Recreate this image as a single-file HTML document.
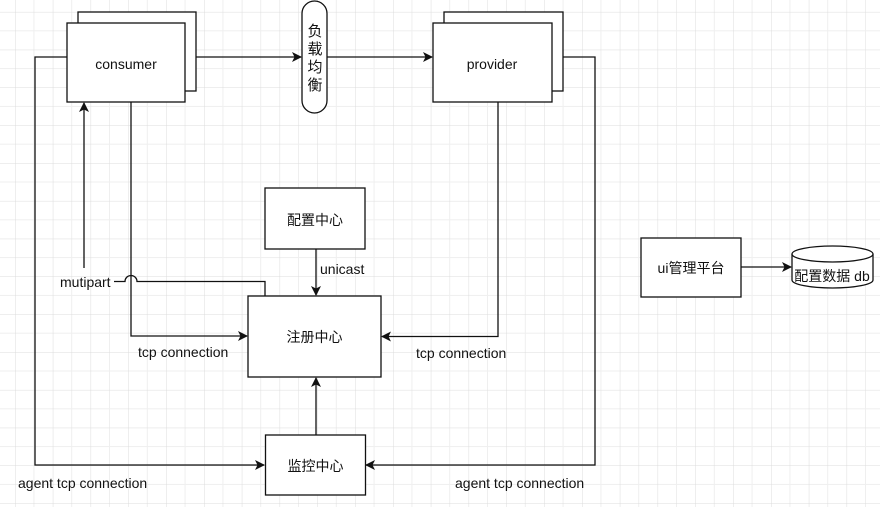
<!DOCTYPE html>
<html><head><meta charset="utf-8"><style>
html,body{margin:0;padding:0;background:#fff;}
svg{display:block;}
text{font-family:"Liberation Sans","Noto Sans CJK SC",sans-serif;font-size:14px;fill:#111;}
</style></head><body>
<svg width="880" height="507" viewBox="0 0 880 507" xmlns="http://www.w3.org/2000/svg">
<defs>
<pattern id="g" x="15" y="11.9" width="37.8" height="37.8" patternUnits="userSpaceOnUse">
<path d="M18.9 0V37.8M0 18.9H37.8" stroke="#efefef" stroke-width="1" fill="none"/>
<path d="M0 0V37.8M0 0H37.8" stroke="#dcdcdc" stroke-width="1" fill="none"/>
</pattern>
<marker id="a" markerWidth="12" markerHeight="12" refX="9" refY="5" orient="auto" markerUnits="userSpaceOnUse"><path d="M0 0L10 5L0 10L2.5 5Z" fill="#111"/></marker>
</defs>
<rect width="880" height="507" fill="url(#g)"/>
<g stroke="#111" stroke-width="1.3" fill="none">
<rect x="78" y="12" width="118" height="79" fill="#fff"/>
<rect x="67" y="23" width="118" height="79" fill="#fff"/>
<rect x="444" y="12" width="119" height="79" fill="#fff"/>
<rect x="433" y="23" width="119" height="79" fill="#fff"/>
<rect x="302" y="1" width="25" height="112" rx="12.5" fill="#fff"/>
<rect x="265" y="188" width="100" height="61" fill="#fff"/>
<rect x="248" y="296" width="133" height="81" fill="#fff"/>
<rect x="265.5" y="435" width="100" height="60" fill="#fff"/>
<rect x="641" y="238" width="100" height="59" fill="#fff"/>
<path d="M792 254V280A40.5 8 0 0 0 873 280V254" fill="#fff"/>
<ellipse cx="832.5" cy="254" rx="40.5" ry="8" fill="#fff"/>
<path d="M196 57H301" marker-end="url(#a)"/>
<path d="M327 57H432" marker-end="url(#a)"/>
<path d="M67 57H35V465H264" marker-end="url(#a)"/>
<path d="M563 57H595V465H366" marker-end="url(#a)"/>
<path d="M131 102V336H247" marker-end="url(#a)"/>
<path d="M498 102V336.5H382" marker-end="url(#a)"/>
<path d="M84 268V103" marker-end="url(#a)"/>
<path d="M114 281.5H125A6 6 0 0 1 137 281.5H265V296"/>
<path d="M316 249V295" marker-end="url(#a)"/>
<path d="M316 435V378" marker-end="url(#a)"/>
<path d="M741 267H791" marker-end="url(#a)"/>
</g>
<text x="126" y="69" text-anchor="middle">consumer</text>
<text x="492" y="69" text-anchor="middle">provider</text>
<g style="font-size:15px">
<text x="315" y="36" text-anchor="middle" style="font-size:15px">负</text>
<text x="315" y="54" text-anchor="middle" style="font-size:15px">载</text>
<text x="315" y="72" text-anchor="middle" style="font-size:15px">均</text>
<text x="315" y="90" text-anchor="middle" style="font-size:15px">衡</text>
</g>
<text x="315" y="225" text-anchor="middle">配置中心</text>
<text x="314.5" y="342" text-anchor="middle">注册中心</text>
<text x="315.5" y="471" text-anchor="middle">监控中心</text>
<text x="691" y="273" text-anchor="middle">ui管理平台</text>
<text x="832" y="281" text-anchor="middle">配置数据 db</text>
<text x="320" y="274">unicast</text>
<text x="60" y="287">mutipart</text>
<text x="138" y="357">tcp connection</text>
<text x="416" y="358">tcp connection</text>
<text x="18" y="488">agent tcp connection</text>
<text x="455" y="488">agent tcp connection</text>
</svg>
</body></html>
